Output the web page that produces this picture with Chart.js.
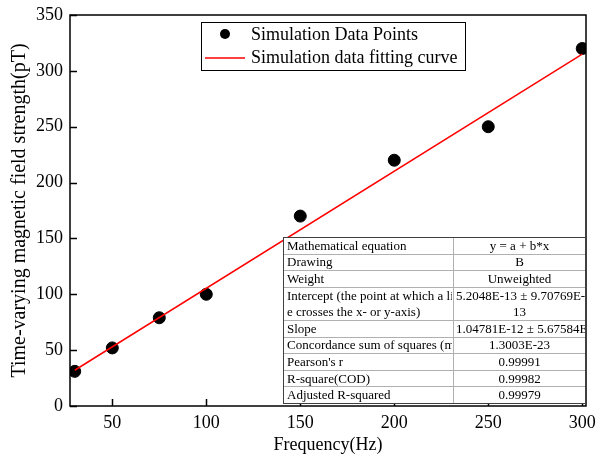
<!DOCTYPE html>
<html>
<head>
<meta charset="utf-8">
<script src="https://cdn.jsdelivr.net/npm/chart.js@4.4.1/dist/chart.umd.min.js"></script>
<style>
  html, body { margin: 0; padding: 0; background: #fff; }
  #wrap { width: 596px; height: 456px; }
</style>
</head>
<body>
<div id="wrap"><canvas id="fitChart"></canvas></div>
<script>
// data
const freq = [30, 50, 75, 100, 150, 200, 250, 300];
const field = [31, 52, 79, 100, 170, 220, 250, 320];
const fitFreq = [30, 300];
const fitField = [32, 315];
const xTicks = [50, 100, 150, 200, 250, 300];
const yTicks = [0, 50, 100, 150, 200, 250, 300, 350];
const tableRows = [
    ["Mathematical equation", "y = a + b*x"],
    ["Drawing", "B"],
    ["Weight", "Unweighted"],
    ["Intercept (the point at which a lin|e crosses the x- or y-axis)", "5.2048E-13 \u00b1 9.70769E-|13"],
    ["Slope", "1.04781E-12 \u00b1 5.67584E-13"],
    ["Concordance sum of squares (mean)", "1.3003E-23"],
    ["Pearson's r", "0.99991"],
    ["R-square(COD)", "0.99982"],
    ["Adjusted R-squared", "0.99979"]
];

const serif = "'Liberation Serif', 'DejaVu Serif', serif";

const frameAndExtras = {
    id: 'frameAndExtras',
    afterDraw(chart) {
        const c = chart.ctx;
        const a = chart.chartArea;
        const xs = chart.scales.x, ys = chart.scales.y;
        c.save();
        // frame
        c.strokeStyle = '#000';
        c.lineWidth = 1.5;
        c.strokeRect(a.left, a.top, a.right - a.left, a.bottom - a.top);
        // inward ticks
        xTicks.forEach(v => {
            const px = Math.round(xs.getPixelForValue(v)) + 0.5;
            c.beginPath(); c.moveTo(px, a.bottom); c.lineTo(px, a.bottom - 7); c.stroke();
        });
        yTicks.forEach(v => {
            const py = Math.round(ys.getPixelForValue(v)) + 0.5;
            c.beginPath(); c.moveTo(a.left, py); c.lineTo(a.left + 7, py); c.stroke();
        });

        // legend box
        const lx = 201, ly = 22, lw = 264, lh = 48;
        c.fillStyle = '#fff';
        c.fillRect(lx, ly, lw, lh);
        c.lineWidth = 1;
        c.strokeStyle = '#000';
        c.strokeRect(lx + 0.5, ly + 0.5, lw, lh);
        const ds = chart.data.datasets;
        c.font = '18px ' + serif;
        c.textBaseline = 'middle';
        c.textAlign = 'left';
        c.fillStyle = '#000';
        c.beginPath(); c.arc(225, 34, 5, 0, Math.PI * 2); c.fill();
        c.fillText(ds[0].label, 251, 35);
        c.strokeStyle = 'red'; c.lineWidth = 1.5;
        c.beginPath(); c.moveTo(205, 58); c.lineTo(245, 58); c.stroke();
        c.fillStyle = '#000';
        c.fillText(ds[1].label, 251, 58);

        // fit statistics table
        const tw = 303, col1 = 170;
        const lineH = 16.6;
        const nLines = tableRows.reduce((n, r) => n + r[0].split('|').length, 0);
        const th = nLines * lineH;
        const tx = a.right - tw, ty = a.bottom - 3 - th;
        c.fillStyle = '#fff';
        c.fillRect(tx, ty, tw, th);
        c.font = '13px ' + serif;
        c.strokeStyle = '#b0b0b0';
        c.lineWidth = 1;
        let y = ty;
        tableRows.forEach((row, i) => {
            const left = row[0].split('|');
            const right = row[1].split('|');
            const h = left.length * lineH;
            if (i > 0) {
                c.beginPath(); c.moveTo(tx, Math.round(y) + 0.5); c.lineTo(tx + tw, Math.round(y) + 0.5); c.stroke();
            }
            c.fillStyle = '#000';
            c.save();
            c.beginPath(); c.rect(tx, y, col1 - 1, h); c.clip();
            c.textAlign = 'left';
            left.forEach((t, k) => c.fillText(t, tx + 4, y + lineH * k + lineH / 2 + 1));
            c.restore();
            c.save();
            c.beginPath(); c.rect(tx + col1 + 1, y, tw - col1 - 2, h); c.clip();
            const rc = tx + col1 + (tw - col1) / 2;
            right.forEach((t, k) => {
                const w = c.measureText(t).width;
                if (w > tw - col1 - 4) {
                    c.textAlign = 'left';
                    c.fillText(t, tx + col1 + 3, y + lineH * k + lineH / 2 + 1);
                } else {
                    c.textAlign = 'center';
                    c.fillText(t, rc, y + lineH * k + lineH / 2 + 1);
                }
            });
            c.restore();
            y += h;
        });
        c.beginPath();
        c.moveTo(Math.round(tx + col1) + 0.5, ty); c.lineTo(Math.round(tx + col1) + 0.5, ty + th);
        c.stroke();
        c.strokeStyle = '#404040';
        c.strokeRect(Math.round(tx) + 0.5, Math.round(ty) + 0.5, tw - 1, Math.round(th));
        c.restore();
    }
};

const ctx = document.getElementById('fitChart');
new Chart(ctx, {
    type: 'scatter',
    data: {
        datasets: [
            {
                label: 'Simulation Data Points',
                data: freq.map((f, i) => ({ x: f, y: field[i] })),
                backgroundColor: '#000',
                borderColor: '#000',
                pointRadius: 6,
                pointHoverRadius: 6,
                order: 1
            },
            {
                label: 'Simulation data fitting curve',
                data: fitFreq.map((f, i) => ({ x: f, y: fitField[i] })),
                showLine: true,
                borderColor: 'red',
                backgroundColor: 'red',
                borderWidth: 1.5,
                pointRadius: 0,
                order: 0
            }
        ]
    },
    options: {
        responsive: true,
        maintainAspectRatio: false,
        animation: false,
        layout: { padding: { left: 0, right: 10, top: 15, bottom: 0 } },
        plugins: { legend: { display: false }, tooltip: { enabled: false } },
        scales: {
            x: {
                type: 'linear',
                min: 27.5,
                max: 302,
                afterBuildTicks: s => { s.ticks = xTicks.map(v => ({ value: v })); },
                afterFit: s => { s.height = 50; s.paddingRight = 0; s.paddingLeft = 0; },
                grid: { display: false, drawTicks: false },
                border: { display: false },
                ticks: { color: '#000', padding: 6, font: { family: serif, size: 18 } },
                title: { display: true, text: 'Frequency(Hz)', color: '#000', padding: { top: 0, bottom: 0 }, font: { family: serif, size: 18 } }
            },
            y: {
                min: 0,
                max: 350,
                afterBuildTicks: s => { s.ticks = yTicks.map(v => ({ value: v })); },
                afterFit: s => { s.width = 70; s.paddingTop = 0; s.paddingBottom = 0; },
                grid: { display: false, drawTicks: false },
                border: { display: false },
                ticks: { color: '#000', padding: 7, font: { family: serif, size: 18 } },
                title: { display: true, text: 'Time-varying magnetic field strength(pT)', color: '#000', padding: { top: 8, bottom: 0 }, font: { family: serif, size: 20 } }
            }
        }
    },
    plugins: [frameAndExtras]
});
</script>
</body>
</html>
